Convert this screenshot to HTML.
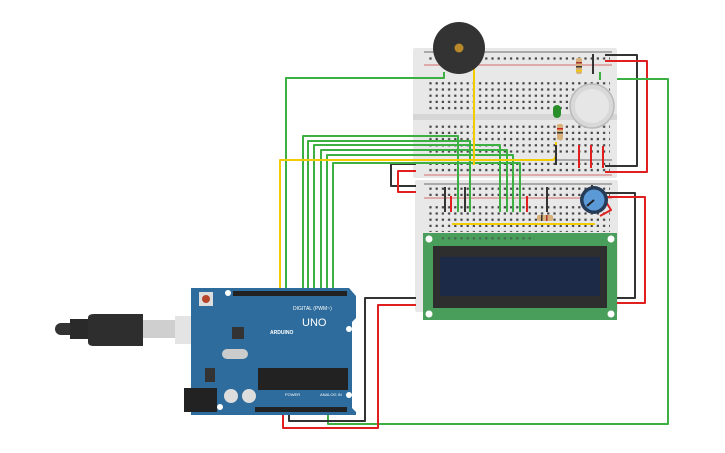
<!DOCTYPE html>
<html><head><style>
html,body{margin:0;padding:0;background:#fff;width:725px;height:453px;overflow:hidden}
svg{display:block}
text{font-family:"Liberation Sans",sans-serif}
</style></head><body>
<svg width="725" height="453" viewBox="0 0 725 453">
<defs>
<pattern id="dots" x="0" y="0" width="6.2" height="6.2" patternUnits="userSpaceOnUse">
<rect x="1.6" y="1.6" width="2.2" height="2.2" fill="#444"/>
</pattern>
</defs>

<!-- Breadboard 1 -->
<rect x="413" y="48" width="204" height="130" fill="#e8e8e8" rx="2"/>
<line x1="424" y1="52" x2="612" y2="52" stroke="#444" stroke-width="0.8"/>
<line x1="424" y1="65" x2="612" y2="65" stroke="#c44" stroke-width="0.8"/>
<rect x="426" y="55" width="184" height="8" fill="url(#dots)"/>
<rect x="426" y="80" width="184" height="33" fill="url(#dots)"/>
<rect x="413" y="114" width="204" height="6" fill="#d6d6d6"/>
<rect x="426" y="122" width="184" height="33" fill="url(#dots)"/>
<line x1="424" y1="160" x2="612" y2="160" stroke="#444" stroke-width="0.8"/>
<line x1="424" y1="175" x2="612" y2="175" stroke="#c44" stroke-width="0.8"/>
<rect x="426" y="162" width="184" height="10" fill="url(#dots)"/>

<!-- Breadboard 2 -->
<rect x="415" y="180" width="203" height="132" fill="#e8e8e8" rx="2"/>
<line x1="424" y1="184" x2="612" y2="184" stroke="#444" stroke-width="0.8"/>
<line x1="424" y1="198" x2="612" y2="198" stroke="#c44" stroke-width="0.8"/>
<rect x="426" y="186" width="184" height="10" fill="url(#dots)"/>
<rect x="426" y="206" width="184" height="26" fill="url(#dots)"/>

<!-- LCD -->
<rect x="423" y="233" width="194" height="87" fill="#4a9e5c"/>
<circle cx="429" cy="239" r="3.5" fill="#fff"/><circle cx="611" cy="239" r="3.5" fill="#fff"/>
<circle cx="429" cy="314" r="3.5" fill="#fff"/><circle cx="611" cy="314" r="3.5" fill="#fff"/>
<rect x="439" y="235" width="96" height="5" fill="url(#dots)" opacity="0.6"/>
<rect x="433" y="246" width="174" height="62" fill="#2e2e2e"/>
<rect x="440" y="257" width="160" height="39" fill="#1c2a48"/>

<g fill="none" stroke-width="2" stroke-linejoin="round">
<path d="M605 55 H637 V166 H605" stroke="#333"/>
<path d="M605 61 H647 V172 H605" stroke="#e02020"/>
<path d="M605 193 H635 V298 H617" stroke="#333"/>
<path d="M605 197 H645 V303 H617" stroke="#e02020"/>
<path d="M416 164 H391 V186 H416" stroke="#333"/>
<path d="M416 171 H398 V192 H416" stroke="#e02020"/>
<path d="M617 79 H668 V424 H328 V410" stroke="#3cb043"/>
<path d="M286 292 V78 H444 V72" stroke="#3cb043"/>
<path d="M289 410 V421 H365 V298 H416" stroke="#333"/>
<path d="M283 410 V428 H378 V305 H416" stroke="#e02020"/>
<path d="M303 292 V136 H458 V212" stroke="#3cb043"/>
<path d="M308 292 V141 H470 V212" stroke="#3cb043"/>
<path d="M314 292 V145 H500 V212" stroke="#3cb043"/>
<path d="M321 292 V150 H507 V212" stroke="#3cb043"/>
<path d="M327 292 V155 H513 V212" stroke="#3cb043"/>
<path d="M333 292 V163 H520 V212" stroke="#3cb043"/>
<path d="M280 292 V160 H552 Q556 160 556 152 V142" stroke="#f2cc00"/>
<path d="M474 60 V165" stroke="#f2cc00"/>
<path d="M452 224 H595" stroke="#f2cc00"/>
<path d="M445 187 V212 M465 187 V212 M547 187 V212 M556 145 V165 M592 185 V198 Q592 200 588 198 M593 54 V74" stroke="#333"/>
<path d="M451 196 V212 M527 196 V212 M579 145 V168 M591 145 V168 M603 146 V168 M603 197 L611 210 L600 216" stroke="#e02020"/>
<path d="M600 72 V80" stroke="#3cb043"/>
</g>

<rect x="576" y="58" width="6" height="16" rx="2" fill="#d8b07a"/>
<rect x="576" y="62" width="6" height="1.5" fill="#a33"/><rect x="576" y="66" width="6" height="1.5" fill="#333"/><rect x="576" y="70" width="6" height="1.5" fill="#f2cc00"/>
<rect x="557" y="124" width="6" height="16" rx="2" fill="#d8b07a"/>
<rect x="557" y="128" width="6" height="1.5" fill="#c22"/><rect x="557" y="132" width="6" height="1.5" fill="#333"/>
<rect x="537" y="215" width="16" height="6" rx="2" fill="#d8b07a"/>
<rect x="541" y="215" width="1.5" height="6" fill="#333"/><rect x="546" y="215" width="1.5" height="6" fill="#a33"/>
<rect x="553" y="105" width="8" height="13" rx="4" fill="#2a8f2a"/>

<circle cx="459" cy="48" r="26" fill="#333"/>
<circle cx="459" cy="48" r="4.5" fill="#b8882a"/>
<circle cx="592" cy="106" r="22" fill="#d8d8d8" stroke="#bbb" stroke-width="1.5"/>
<circle cx="592" cy="106" r="17" fill="#e6e6e6"/>
<circle cx="594" cy="200" r="14" fill="#253b57"/>
<circle cx="594" cy="200" r="10.5" fill="#5b9ad6"/>
<line x1="594" y1="200" x2="587" y2="206" stroke="#222" stroke-width="2"/>

<rect x="55" y="323" width="22" height="12" rx="6" fill="#333"/>
<rect x="70" y="319" width="20" height="20" fill="#2a2a2a"/>
<path d="M88 318 Q88 314 94 314 H143 V346 H94 Q88 346 88 342 Z" fill="#2e2e2e"/>
<rect x="143" y="320" width="33" height="18" fill="#cfcfcf"/>
<rect x="175" y="316" width="39" height="28" fill="#e4e4e4"/>

<path d="M191 288 H349 L356 296 V318 L352 322 V408 L356 412 V415 H191 Z" fill="#2d6c9c"/>
<rect x="233" y="291" width="114" height="5" fill="#222"/>
<rect x="255" y="407" width="92" height="5" fill="#222"/>
<circle cx="228" cy="293" r="3" fill="#fff"/><circle cx="349" cy="329" r="3" fill="#fff"/>
<circle cx="220" cy="407" r="3" fill="#fff"/><circle cx="349" cy="395" r="3" fill="#fff"/>
<rect x="199" y="292" width="14" height="14" fill="#ddd"/><circle cx="206" cy="299" r="4" fill="#b5452a"/>
<rect x="232" y="327" width="12" height="12" fill="#333"/>
<rect x="222" y="349" width="26" height="10" rx="5" fill="#ccc"/>
<rect x="205" y="368" width="10" height="14" fill="#333"/>
<rect x="184" y="388" width="33" height="24" fill="#222"/>
<circle cx="231" cy="396" r="7" fill="#ddd"/><circle cx="249" cy="396" r="7" fill="#ddd"/>
<rect x="258" y="368" width="90" height="22" fill="#222"/>
<text x="293" y="310" font-size="5" fill="#fff">DIGITAL (PWM~)</text>
<text x="302" y="326" font-size="11" fill="#fff">UNO</text>
<text x="270" y="334" font-size="5" fill="#fff" font-weight="bold">ARDUINO</text>
<text x="285" y="396" font-size="4" fill="#fff">POWER</text>
<text x="320" y="396" font-size="4" fill="#fff">ANALOG IN</text>
</svg>
</body></html>
